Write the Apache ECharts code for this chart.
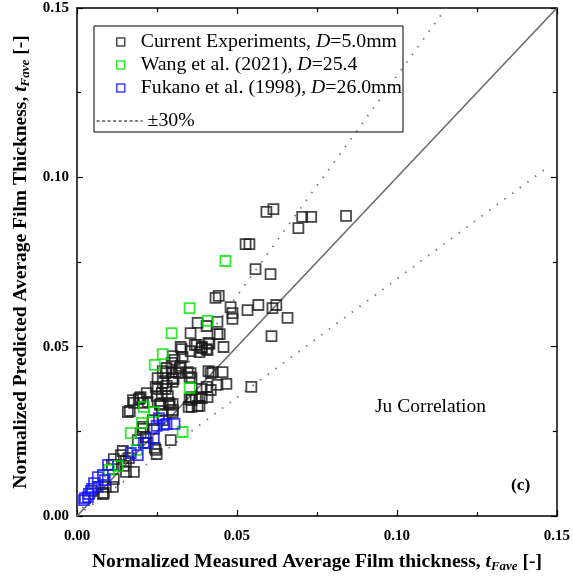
<!DOCTYPE html>
<html>
<head>
    <meta charset="utf-8">
    <script src="https://cdn.jsdelivr.net/npm/echarts@6.0.0/dist/echarts.min.js"></script>
</head>
<body style="margin:0">
    <div id="main" style="width: 573px;height:581px;"></div>
    <script type="text/javascript">
        var myChart = echarts.init(document.getElementById('main'));

        // 当前实验 D=5.0mm
        var currentExp = [
            [0.0592, 0.0898], [0.0614, 0.0906], [0.0704, 0.0883], [0.0732, 0.0883], [0.0841, 0.0886],
            [0.0692, 0.0850], [0.0527, 0.0803], [0.0539, 0.0803], [0.0558, 0.0729], [0.0605, 0.0714],
            [0.0433, 0.0644], [0.0443, 0.0650], [0.0480, 0.0617], [0.0486, 0.0599], [0.0486, 0.0582],
            [0.0533, 0.0608], [0.0567, 0.0623], [0.0611, 0.0614], [0.0623, 0.0623], [0.0658, 0.0585],
            [0.0608, 0.0531], [0.0439, 0.0537], [0.0446, 0.0537], [0.0405, 0.0561], [0.0439, 0.0573],
            [0.0377, 0.0570], [0.0458, 0.0499], [0.0411, 0.0511], [0.0390, 0.0499], [0.0355, 0.0540],
            [0.0324, 0.0499], [0.0374, 0.0505], [0.0405, 0.0493], [0.0414, 0.0508], [0.0368, 0.0505],
            [0.0355, 0.0487], [0.0383, 0.0484], [0.0408, 0.0490], [0.0327, 0.0493], [0.0346, 0.0425],
            [0.0352, 0.0410], [0.0411, 0.0428], [0.0418, 0.0422], [0.0455, 0.0425], [0.0439, 0.0387],
            [0.0467, 0.0390], [0.0545, 0.0381], [0.0390, 0.0375], [0.0405, 0.0381], [0.0358, 0.0351],
            [0.0383, 0.0351], [0.0408, 0.0351], [0.0390, 0.0348], [0.0321, 0.0437], [0.0324, 0.0443],
            [0.0299, 0.0472], [0.0305, 0.0461], [0.0330, 0.0469], [0.0296, 0.0452], [0.0268, 0.0428],
            [0.0296, 0.0425], [0.0318, 0.0422], [0.0358, 0.0407], [0.0252, 0.0407], [0.0268, 0.0393],
            [0.0299, 0.0396], [0.0280, 0.0384], [0.0299, 0.0407], [0.0252, 0.0375], [0.0277, 0.0375],
            [0.0218, 0.0363], [0.0249, 0.0354], [0.0284, 0.0354], [0.0352, 0.0345], [0.0371, 0.0348],
            [0.0196, 0.0348], [0.0175, 0.0342], [0.0206, 0.0334], [0.0259, 0.0328], [0.0290, 0.0328],
            [0.0358, 0.0322], [0.0377, 0.0325], [0.0165, 0.0310], [0.0159, 0.0307], [0.0265, 0.0310],
            [0.0299, 0.0307], [0.0237, 0.0283], [0.0268, 0.0283], [0.0206, 0.0263], [0.0349, 0.0322],
            [0.0299, 0.0331], [0.0262, 0.0331], [0.0178, 0.0334], [0.0221, 0.0337], [0.0206, 0.0257],
            [0.0240, 0.0257], [0.0293, 0.0224], [0.0215, 0.0233], [0.0199, 0.0245], [0.0190, 0.0224],
            [0.0215, 0.0216], [0.0243, 0.0201], [0.0249, 0.0183], [0.0143, 0.0192], [0.0115, 0.0168],
            [0.0137, 0.0180], [0.0162, 0.0171], [0.0153, 0.0162], [0.0109, 0.0151], [0.0146, 0.0148],
            [0.0153, 0.0130], [0.0178, 0.0130], [0.0115, 0.0109], [0.0090, 0.0086], [0.0112, 0.0086],
            [0.0084, 0.0068], [0.0081, 0.0065], [0.0044, 0.0074], [0.0390, 0.0496], [0.0280, 0.0437],
            [0.0309, 0.0425], [0.0277, 0.0422], [0.0302, 0.0404], [0.0355, 0.0422], [0.0418, 0.0372],
            [0.0358, 0.0342], [0.0246, 0.0381], [0.0265, 0.0363], [0.0193, 0.0345], [0.0199, 0.0351],
            [0.0287, 0.0334], [0.0299, 0.0313], [0.0246, 0.0195], [0.0424, 0.0425], [0.0383, 0.0325]
        ]
        // Wang et al. (2021)
        var wangData = [
            [0.0464, 0.0753], [0.0352, 0.0614], [0.0408, 0.0576], [0.0296, 0.0540], [0.0268, 0.0478],
            [0.0243, 0.0446], [0.0352, 0.0378], [0.0209, 0.0322], [0.0240, 0.0307], [0.0203, 0.0275],
            [0.0330, 0.0248], [0.0168, 0.0245], [0.0187, 0.0195], [0.0100, 0.0136], [0.0128, 0.0148]
        ]
        // Fukano et al. (1998)
        var fukanoData = [
            [0.0256, 0.0289], [0.0280, 0.0272], [0.0305, 0.0272], [0.0271, 0.0269], [0.0249, 0.0266],
            [0.0221, 0.0216], [0.0240, 0.0230], [0.0209, 0.0216], [0.0168, 0.0186], [0.0190, 0.0180],
            [0.0097, 0.0151], [0.0081, 0.0121], [0.0065, 0.0115], [0.0087, 0.0106], [0.0065, 0.0086],
            [0.0053, 0.0097], [0.0037, 0.0065], [0.0034, 0.0056], [0.0025, 0.0053], [0.0047, 0.0080],
            [0.0022, 0.0047]
        ]
        var seriesNames = ['Current Experiments, {i|D}=5.0mm', 'Wang et al. (2021), {i|D}=25.4', 'Fukano et al. (1998), {i|D}=26.0mm']
        var lineRatios = [1, 1.3, 0.7]   // y = k x
        var axisMax = 0.15
        var tickStep = 0.05

        var serif = '"Liberation Serif", "Times New Roman", serif'

        function ratioLine(k) {
            var xEnd = Math.min(axisMax, axisMax / k)
            if (k < 1) xEnd = 0.1475
            return [[0, 0], [xEnd, k * xEnd]]
        }

        function scatter(name, data, color) {
            return {
                name: name,
                type: 'scatter',
                data: data,
                symbol: 'rect',
                symbolSize: 10,
                itemStyle: {
                    color: 'rgba(0,0,0,0)',
                    borderColor: color,
                    borderWidth: 1.8
                },
                z: 5
            }
        }

        var axisNameRich = {
            b: { fontFamily: serif, fontWeight: 'bold', fontSize: 19.5, color: '#000' },
            t: { fontFamily: serif, fontWeight: 'bold', fontStyle: 'italic', fontSize: 19.5, color: '#000' },
            s: { fontFamily: serif, fontWeight: 'bold', fontStyle: 'italic', fontSize: 13, color: '#000', padding: [9, 0, 0, 0] }
        }

        function mainAxis(name, pos) {
            return {
                type: 'value',
                position: pos,
                min: 0,
                max: axisMax,
                interval: tickStep,
                name: name,
                nameLocation: 'middle',
                nameGap: pos === 'bottom' ? 35 : 45,
                nameTextStyle: { rich: axisNameRich },
                axisLine: { show: true, onZero: false, lineStyle: { color: '#000', width: 1.5 } },
                axisTick: { show: true, inside: true, length: 6, lineStyle: { color: '#000', width: 1.2 } },
                minorTick: { show: true, splitNumber: 2, length: 4, lineStyle: { color: '#000', width: 1.2 } },
                splitLine: { show: false },
                axisLabel: {
                    fontFamily: serif, fontWeight: 'bold', fontSize: 15, color: '#000',
                    margin: pos === 'bottom' ? 13 : 8,
                    formatter: function (v) { return v.toFixed(2) }
                }
            }
        }

        function mirrorAxis(pos) {
            return {
                type: 'value',
                position: pos,
                min: 0,
                max: axisMax,
                interval: tickStep,
                axisLine: { show: true, onZero: false, lineStyle: { color: '#000', width: 1.5 } },
                axisTick: { show: true, inside: true, length: 6, lineStyle: { color: '#000', width: 1.2 } },
                minorTick: { show: true, splitNumber: 2, length: 4, lineStyle: { color: '#000', width: 1.2 } },
                splitLine: { show: false },
                axisLabel: { show: false }
            }
        }

        var option = {
            animation: false,
            backgroundColor: '#fff',
            grid: { left: 77, right: 15, top: 8, bottom: 65, containLabel: false },
            xAxis: [
                mainAxis('{b|Normalized Measured Average Film thickness, }{t|t}{s|Fave}{b| [-]}', 'bottom'),
                mirrorAxis('top')
            ],
            yAxis: [
                mainAxis('{b|Normalized Predicted Average Film Thickness, }{t|t}{s|Fave}{b| [-]}', 'left'),
                mirrorAxis('right')
            ],
            legend: [
                {
                    data: seriesNames,
                    orient: 'vertical',
                    left: 111,
                    top: 27,
                    itemWidth: 8,
                    itemHeight: 8,
                    itemGap: 3,
                    selectedMode: false,
                    itemStyle: { borderWidth: 1.5 },
                    textStyle: {
                        fontFamily: serif, fontSize: 19.8, color: '#000', lineHeight: 20,
                        padding: [0, 0, 0, 11],
                        rich: { i: { fontFamily: serif, fontSize: 19.8, fontStyle: 'italic', color: '#000' } }
                    }
                },
                {
                    data: [{ name: '±30%', itemStyle: { opacity: 0 } }],
                    orient: 'vertical',
                    left: 91,
                    top: 106,
                    itemWidth: 46,
                    itemHeight: 9,
                    selectedMode: false,
                    lineStyle: { color: '#000', width: 1.2, type: [3, 2.5] },
                    textStyle: { fontFamily: serif, fontSize: 19.8, color: '#000' }
                }
            ],
            graphic: [
                { type: 'rect', shape: { x: 94, y: 26, width: 309, height: 106 }, style: { fill: 'none', stroke: '#000', lineWidth: 1 }, z: 10 },
                { type: 'text', left: 375, top: 397, style: { text: 'Ju Correlation', font: '19.5px ' + serif, fill: '#000' } },
                { type: 'text', left: 511, top: 476, style: { text: '(c)', font: 'bold 17.5px ' + serif, fill: '#000' } }
            ],
            series: [
                scatter(seriesNames[0], currentExp, '#1a1a1a'),
                scatter(seriesNames[1], wangData, '#00e600'),
                scatter(seriesNames[2], fukanoData, '#1010ff'),
                {
                    name: 'y=x',
                    type: 'line',
                    data: ratioLine(lineRatios[0]),
                    symbol: 'none',
                    lineStyle: { color: '#6b6b6b', width: 1.6 },
                    z: 3
                },
                {
                    name: '±30%',
                    type: 'line',
                    data: ratioLine(lineRatios[1]),
                    symbol: 'none',
                    itemStyle: { color: '#777' },
                    lineStyle: { color: '#777', width: 1.8, type: [1.5, 8] },
                    z: 3
                },
                {
                    name: '±30% low',
                    type: 'line',
                    data: ratioLine(lineRatios[2]),
                    symbol: 'none',
                    lineStyle: { color: '#777', width: 1.8, type: [1.5, 8] },
                    z: 3
                }
            ]
        }
        myChart.setOption(option);
    </script>
</body>
</html>
